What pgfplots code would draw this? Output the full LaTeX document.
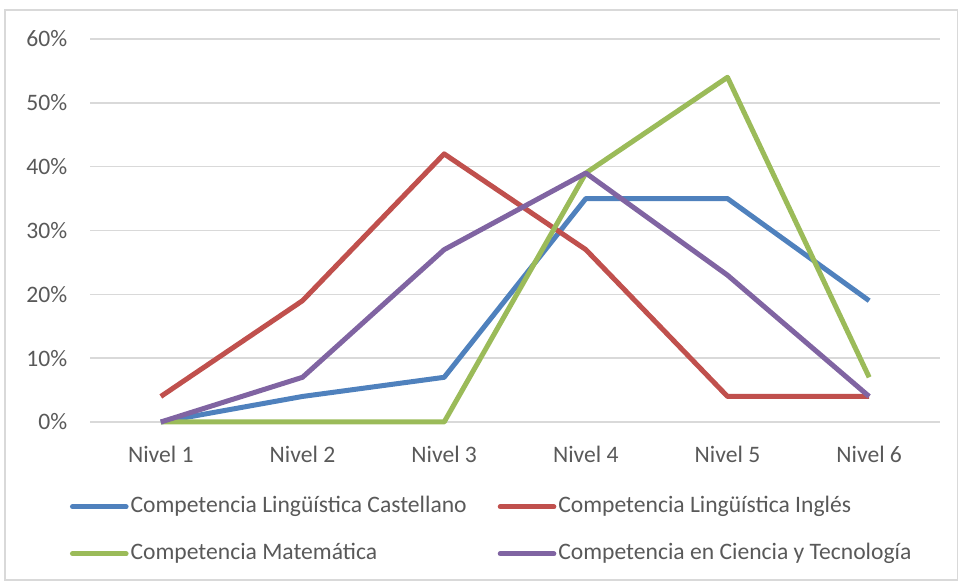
\documentclass[border=0pt]{standalone}
\usepackage{fontspec}
\setmainfont{Carlito}
\usepackage{pgfplots}
\pgfplotsset{compat=1.18}
\definecolor{cblue}{HTML}{4F81BD}
\definecolor{cred}{HTML}{C0504D}
\definecolor{cgreen}{HTML}{9BBB59}
\definecolor{cpurple}{HTML}{8064A2}
\definecolor{tgray}{HTML}{595959}
\definecolor{ggray}{HTML}{D9D9D9}
\begin{document}
\fontsize{11.8}{14}\selectfont
\begin{tikzpicture}
\path[use as bounding box] (0,0) rectangle (479pt,290.5pt);
\draw[color=ggray, line width=0.6pt] (2.5pt,0.5pt) rectangle (478.6pt,285.5pt);
\begin{axis}[
  at={(45pt,79.5pt)}, anchor=south west,
  scale only axis, width=425pt, height=191.5pt,
  xmin=-0.5, xmax=5.5, ymin=0, ymax=60,
  xtick={0,1,2,3,4,5},
  xticklabels={Nivel 1,Nivel 2,Nivel 3,Nivel 4,Nivel 5,Nivel 6},
  ytick={0,10,20,30,40,50,60},
  yticklabel={\pgfmathprintnumber{\tick}\%},
  /pgf/number format/assume math mode=true,
  axis x line*=bottom, axis y line*=left,
  y axis line style={draw=none},
  x axis line style={draw=ggray, line width=0.75pt},
  major tick length=0pt,
  ymajorgrids,
  grid style={draw=ggray, line width=0.75pt},
  tick label style={color=tgray, font=\fontsize{11.8}{14}\selectfont},
  yticklabel style={xshift=-7.3pt},
  xticklabel style={yshift=-7.8pt},
  clip=false,
  legend columns=2,
  legend cell align=left,
  legend style={draw=none, fill=none, inner sep=0pt,
    at={(-0.024,-0.283)}, anchor=west,
    font=\fontsize{11.8}{14}\selectfont, text=tgray,
    row sep=10.5pt,
    nodes={inner sep=1pt, text height=8.5pt, text depth=2.5pt},
    /tikz/every even column/.append style={column sep=14.5pt}},
  legend image code/.code={\draw[#1, line width=2.5pt, line cap=round] (1.2pt,0pt) -- (28pt,0pt);},
  every axis plot/.append style={line width=2.5pt, line join=round, mark=none},
]
\addplot[cblue] coordinates {(0,0) (1,4) (2,7) (3,35) (4,35) (5,19)};
\addlegendentry{Competencia Lingüística Castellano}
\addplot[cred] coordinates {(0,4) (1,19) (2,42) (3,27) (4,4) (5,4)};
\addlegendentry{Competencia Lingüística Inglés}
\addplot[cgreen] coordinates {(0,0) (1,0) (2,0) (3,39) (4,54) (5,7)};
\addlegendentry{Competencia Matemática}
\addplot[cpurple] coordinates {(0,0) (1,7) (2,27) (3,39) (4,23) (5,4)};
\addlegendentry{Competencia en Ciencia y Tecnología}
\end{axis}
\end{tikzpicture}
\end{document}
